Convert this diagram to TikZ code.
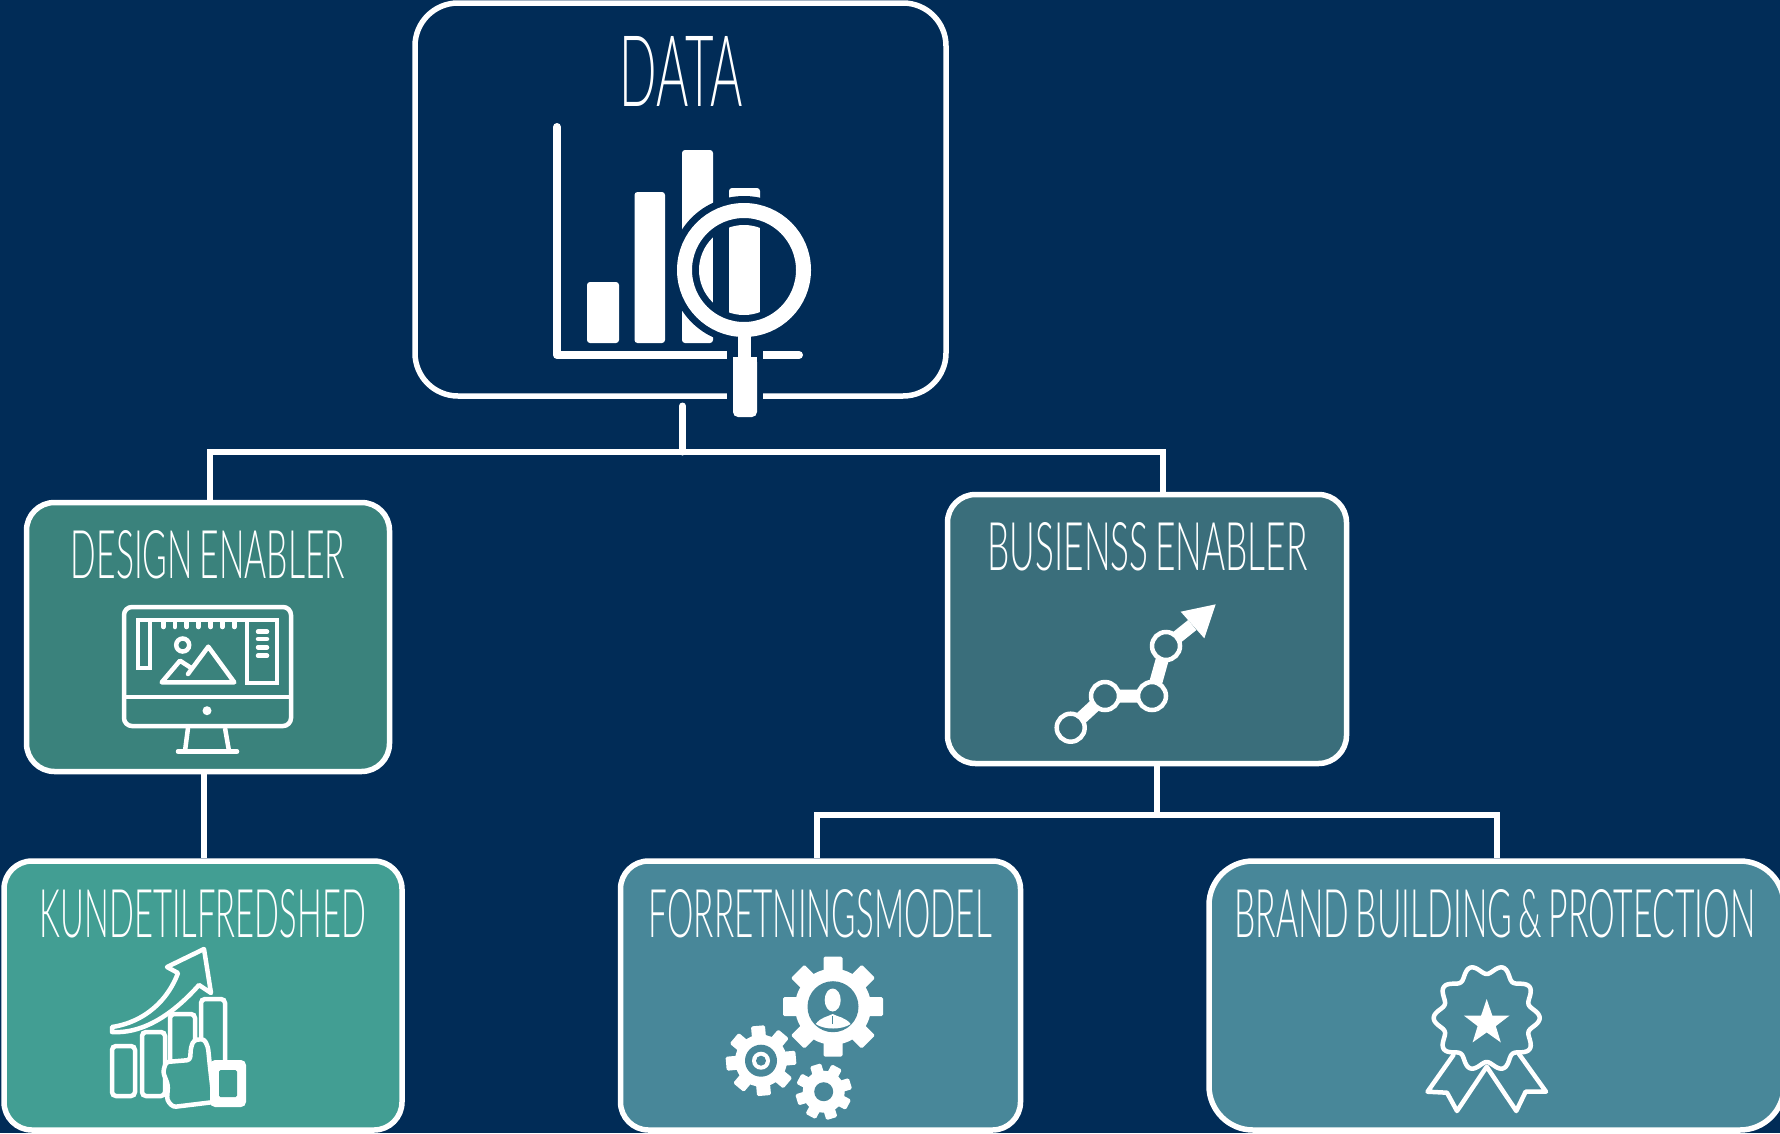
\documentclass[tikz,border=0pt]{standalone}
\usepackage{fontspec}
\usepackage{graphicx}
\usetikzlibrary{calc}
\newfontfamily\capfont[WordSpace=0.7]{Lato Light}
\definecolor{bgblue}{HTML}{012C57}
\definecolor{designfill}{HTML}{3A827C}
\definecolor{kundefill}{HTML}{429E93}
\definecolor{busfill}{HTML}{3A6E7B}
\definecolor{modelfill}{HTML}{488799}
\newcommand{\fittext}[3]{\resizebox{#1pt}{#2pt}{\capfont #3}}
\newcommand{\gearicon}[7]{% cx cy R root toothwidth rot fill
  \foreach \ga in {0,45,...,315}{
    \fill[white,rounded corners=1.5pt,rotate around={\ga+#6:(#1,#2)}]
      ({#1-#5/2},{#2-#3}) rectangle ({#1+#5/2},#2);
  }
  \fill[white] (#1,#2) circle[radius=#4];
}
\tikzset{
  panel/.style={draw=white,line width=5.5pt,inner sep=0pt,rounded corners=#1},
  panel/.default=28pt,
  caption/.style={inner sep=0pt,text=white},
  conn/.style={draw=white,line width=6pt,line cap=butt},
  iconline/.style={draw=white,line width=4.5pt,line cap=round,line join=round},
}
\begin{document}
\begin{tikzpicture}[x=1pt,y=-1pt]
\useasboundingbox (0,0) rectangle (1780,1133);
\fill[bgblue] (0,0) rectangle (1780,1133);

% Panels
\node[panel=43pt,minimum width=531pt,minimum height=393pt] (data) at (680.5,199.5) {};
\node[panel,fill=designfill,minimum width=363pt,minimum height=269pt] (design) at (208,637) {};
\node[panel,fill=busfill,minimum width=399pt,minimum height=269pt] (business) at (1147,629) {};
\node[panel,fill=kundefill,minimum width=398pt,minimum height=269pt] (kunde) at (203,995.5) {};
\node[panel,fill=modelfill,minimum width=400pt,minimum height=269pt] (model) at (820.5,995.5) {};
\node[panel=44pt,fill=modelfill,minimum width=575pt,minimum height=269pt] (brand) at (1496.5,995.5) {};

% Connectors
\coordinate (stub) at (682.5,406);
\coordinate (tl) at (210,452);
\coordinate (tr) at (1163,452);
\coordinate (bj) at (1157,815);
\coordinate (bl) at (817,815);
\coordinate (br) at (1497,815);
\draw[conn] ([xshift=-3pt]tl) -- ([xshift=3pt]tr);
\draw[white,line width=7pt,line cap=round] (stub) -- (stub |- tl);
\draw[conn] (tl) -- (tl |- design.north);
\draw[conn] (tr) -- (tr |- business.north);
\draw[conn] ([xshift=-4pt]design.south) -- ([xshift=-4pt]design.south |- kunde.north);
\draw[conn] (bj |- business.south) -- (bj);
\draw[conn] ([xshift=-3pt]bl) -- ([xshift=3pt]br);
\draw[conn] (bl) -- (bl |- model.north);
\draw[conn] (br) -- (br |- brand.north);

% Captions
\node[caption] (tdata) at (681.5,71) {\fittext{123}{70}{DATA}};
\node[caption] (tdesign) at (208,555) {\fittext{274}{48}{DESIGN ENABLER}};
\node[caption] (tbus) at (1147.5,547) {\fittext{320}{48}{BUSIENSS ENABLER}};
\node[caption] (tkunde) at (203,914) {\fittext{326}{48}{KUNDETILFREDSHED}};
\node[caption] (tmodel) at (820.5,914) {\fittext{343}{48}{FORRETNINGSMODEL}};
\node[caption] (tbrand) at (1495,914) {\fittext{521}{48}{BRAND BUILDING \& PROTECTION}};

% --- DATA icon
\draw[white,line width=8pt,line cap=round,line join=round] (557,127) -- (557,355) -- (799,355);
\foreach \xa/\xb/\yt in {587/619/282,634.5/665/192,682/713/150,729/760/188}{
  \fill[white,rounded corners=3pt] (\xa,\yt) rectangle (\xb,343);
}
\fill[bgblue] (744,270) circle[radius=74];
\begin{scope}
  \clip (744,270) circle[radius=45];
  \fill[white] (682,150) rectangle (713,343);
  \fill[white] (729,188) rectangle (760,343);
\end{scope}
\draw[white,line width=15pt] (744,270) circle[radius=59.5];
\fill[bgblue] (727,340) rectangle (762.5,400);
\fill[white] (738,335) rectangle (751,360);
\fill[white,rounded corners=5pt] (733,357) rectangle (757,417);
\fill[white] (733,357) rectangle (757,365);

% --- DESIGN icon
\draw[white,line width=4.5pt,rounded corners=8pt] (124,607) rectangle (291,726);
\draw[white,line width=4.5pt] (124,697) -- (291,697);
\fill[white] (207,710.7) circle[radius=4.5];
\draw[white,line width=4.5pt] (188,728) -- (185,751) (225,728) -- (229,751);
\draw[iconline] (178,751.5) -- (237,751.5);
\draw[white,line width=4pt] (138,620) -- (138,668) -- (150,668) -- (150,620);
\draw[white,line width=4pt] (136,620) -- (278.7,620);
\foreach \tx in {163.3,175,186.7,198.3,210.7,222.3,234.3}{
  \draw[iconline] (\tx,621) -- (\tx,627);
}
\draw[white,line width=4pt] (247.3,620) -- (247.3,682.7) -- (276.7,682.7) -- (276.7,620);
\foreach \ty in {631.7,639,647.3,655.7}{
  \draw[iconline] (258,\ty) -- (267,\ty);
}
\draw[white,line width=4.5pt] (182.7,645) circle[radius=6.5];
\draw[iconline] (188,674) -- (208.3,646.7) -- (234.3,682.3) -- (161.7,682.3) -- (180,660.7) -- (192,668.5);

% --- BUSINESS icon
\draw[white,line width=13pt] (1070.7,727.7) -- (1105,696) -- (1152,696) -- (1166,646) -- (1192.3,625);
\fill[white] (1180.7,611.7) -- (1215.7,604.3) -- (1204.3,638.3) -- cycle;
\foreach \cx/\cy in {1070.7/727.7,1105/696,1152/696,1166/646}{
  \draw[white,line width=4.5pt,fill=busfill] (\cx,\cy) circle[radius=14];
}

% --- KUNDE icon
\draw[white,line width=4.5pt,rounded corners=4pt] (112,1046) rectangle (135,1096);
\draw[white,line width=4.5pt,rounded corners=4pt] (142,1032) rectangle (165,1096);
\draw[white,line width=4.5pt,rounded corners=4pt] (170,1062) -- (170,1014) -- (195,1014) -- (195,1062);
\draw[white,line width=4.5pt,rounded corners=4pt] (201,1050) -- (201,999) -- (225,999) -- (225,1065);
\draw[iconline] (112,1027) .. controls (145,1022) and (168,1000) .. (178,973) -- (167,967) -- (204,949) -- (211,993) -- (199,985) .. controls (175,1012) and (145,1034) .. (112,1032) -- cycle;
\filldraw[iconline,fill=kundefill,rounded corners=3pt] (166,1062) -- (190,1060) -- (191,1047) -- (194,1040) -- (204,1039) -- (208,1047) -- (210,1067) -- (214,1102) -- (173,1107) -- (167,1100) -- (168,1085) -- (163,1072) -- cycle;
\fill[white,rounded corners=5pt] (210,1060) rectangle (246,1107);
\fill[kundefill,rounded corners=1.5pt] (219,1070) rectangle (237,1097);

% --- MODEL icon
\gearicon{833}{1006.7}{50}{38}{19}{0}{modelfill}
\fill[modelfill] (833,1006.7) circle[radius=25.5];
\fill[white] (832.7,1000) ellipse[x radius=8,y radius=11.5];
\fill[white] (815.7,1024) .. controls (821,1017) and (827,1017) .. (832.7,1014) .. controls (838,1017) and (845,1017) .. (850.7,1024) .. controls (842,1030) and (824,1030) .. (815.7,1024) -- cycle;
\fill[modelfill] (832,1016) rectangle (833.4,1024);
\gearicon{761}{1060.7}{35}{26}{14}{5}{modelfill}
\fill[modelfill] (761,1060.7) circle[radius=16];
\fill[white] (761,1060.7) circle[radius=9];
\fill[modelfill] (761,1060.7) circle[radius=5];
\gearicon{823.7}{1091.7}{28}{21}{11.5}{17}{modelfill}
\fill[modelfill] (823.7,1091.7) circle[radius=9.5];

% --- BRAND icon
\draw[iconline] (1453.4,1055) -- (1427.5,1091.7) -- (1447,1092.7) -- (1457,1111) -- (1486.7,1066.7) -- (1516.3,1111) -- (1525.6,1091.7) -- (1546,1091.7) -- (1519,1054);
\draw[white,line width=4.5pt,fill=modelfill,line join=round] plot[domain=0:360,samples=181,smooth,variable=\t] ({1486.7+(48.5+4.5*cos(10*\t))*cos(\t)},{1018+(48.5+4.5*cos(10*\t))*sin(\t)}) -- cycle;
\fill[white] (1486.7,999) -- (1492.3,1015.6) -- (1509.5,1015.6) -- (1495.8,1026.1) -- (1500.8,1042.4) -- (1486.7,1032.4) -- (1472.6,1042.4) -- (1477.6,1026.1) -- (1463.9,1015.6) -- (1481.1,1015.6) -- cycle;
\end{tikzpicture}
\end{document}
